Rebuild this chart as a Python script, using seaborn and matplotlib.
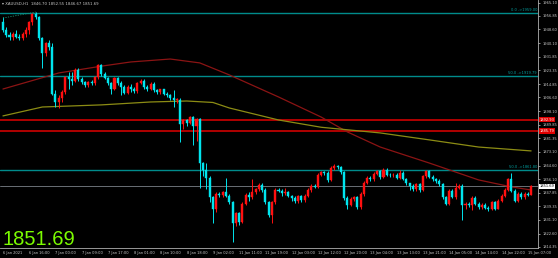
import numpy as np
import pandas as pd
import matplotlib
matplotlib.use("Agg")
import matplotlib.pyplot as plt
import seaborn as sns
from matplotlib.transforms import blended_transform_factory

# ---------------- data ----------------
opens = [1953, 1948, 1945, 1944, 1946, 1944, 1943, 1946, 1948, 1953,
         1958, 1956, 1943, 1934, 1940, 1938, 1909, 1904, 1906, 1910,
         1919, 1918, 1917, 1923.5, 1918, 1916, 1914, 1916, 1915.5, 1919,
         1926.5, 1921, 1918.5, 1915.5, 1912, 1918.5, 1915.5, 1913, 1909.5, 1913,
         1911.5, 1910.5, 1915.5, 1917, 1913, 1911.5, 1915, 1911, 1909.8, 1911.5,
         1909, 1908, 1906, 1905, 1905, 1890, 1892.5, 1891, 1894.5, 1889,
         1893, 1866, 1862, 1857, 1845, 1838, 1847, 1846.5, 1848, 1846,
         1842, 1829, 1835, 1830, 1841, 1846.5, 1845, 1848, 1850, 1852.5,
         1849.5, 1842, 1834, 1842, 1849.5, 1849, 1847.5, 1848, 1845.5, 1844.5,
         1842.5, 1845.5, 1843.5, 1846, 1849.5, 1852, 1851.5, 1859, 1860.5, 1860,
         1855.5, 1863, 1864.5, 1863.5, 1860.5, 1844.5, 1840.5, 1844, 1845, 1839,
         1847, 1854, 1857, 1856, 1859.5, 1861, 1857.5, 1862, 1859, 1858.5,
         1859, 1857, 1860, 1856.5, 1853.5, 1852, 1850, 1853, 1849.5, 1858,
         1861, 1857.5, 1856, 1855, 1853, 1845, 1841, 1849, 1845, 1851,
         1852, 1840, 1841, 1840, 1844.5, 1841, 1839, 1840.5, 1838.5, 1837.5,
         1842, 1838, 1843, 1846, 1849.5, 1856, 1849, 1843, 1847, 1845,
         1847, 1846.70]
highs = [1956, 1950, 1947, 1947, 1948, 1946, 1947, 1950, 1954, 1959,
         1959.5, 1957, 1944, 1941, 1942, 1940, 1911, 1908, 1911, 1920,
         1922, 1922, 1925, 1924.5, 1919, 1917, 1917, 1917.5, 1920, 1927.5,
         1927.5, 1922, 1919, 1916, 1919, 1919, 1917, 1914, 1914, 1915,
         1913, 1916, 1918, 1918, 1914, 1916, 1916, 1912, 1912, 1912,
         1910, 1909, 1911, 1906, 1906, 1893, 1893.5, 1895, 1895, 1894,
         1894, 1867, 1866, 1858, 1846, 1848, 1848, 1849, 1857, 1847,
         1843, 1836, 1836, 1842, 1847.5, 1848, 1856, 1851, 1853.5, 1853.5,
         1850.5, 1843, 1843, 1850.5, 1851, 1850, 1851, 1849, 1846.5, 1845.5,
         1846.5, 1846.5, 1847, 1850.5, 1853, 1853, 1860, 1861.5, 1861.5, 1861,
         1864, 1865.5, 1865, 1864, 1861.5, 1845.5, 1845, 1846, 1846, 1848,
         1855, 1858, 1858, 1860.5, 1862, 1862, 1863, 1863, 1860, 1860,
         1860, 1862, 1861, 1857, 1854, 1853, 1854, 1854, 1859, 1862,
         1862, 1858.5, 1857, 1856, 1854, 1846, 1850, 1850, 1854, 1853,
         1853, 1842, 1842, 1845.5, 1845.5, 1842, 1841.5, 1841.5, 1839.5, 1843,
         1843, 1844, 1847, 1850.5, 1857, 1860, 1850, 1848, 1848, 1848,
         1848, 1852.55]
lows = [1947, 1944, 1942, 1942, 1943, 1942, 1942, 1944, 1946, 1951,
        1955, 1942, 1925, 1932, 1936, 1908, 1901, 1900, 1904, 1909,
        1912, 1914, 1916, 1917, 1915, 1913, 1913, 1914, 1914, 1918,
        1920, 1918, 1914, 1909, 1911, 1914.5, 1908, 1909, 1908.5, 1910,
        1909.5, 1909.5, 1915, 1912, 1910.5, 1911, 1910, 1908.5, 1909, 1908,
        1907, 1905, 1901, 1903, 1879, 1887, 1889, 1890, 1877, 1880,
        1851, 1858, 1850, 1842, 1829, 1836, 1845, 1845, 1845, 1841,
        1817.5, 1827, 1828, 1829, 1840, 1843, 1844, 1847, 1849, 1848.5,
        1841, 1833, 1829, 1841, 1848, 1846, 1846.5, 1845, 1843, 1841.5,
        1841.5, 1842, 1842, 1845, 1848.5, 1850.5, 1851, 1858, 1859, 1854.5,
        1855, 1862, 1862.5, 1859.5, 1843.5, 1838, 1839.5, 1843, 1838, 1838,
        1846, 1853, 1855, 1855, 1858.5, 1856.5, 1857, 1858, 1857.5, 1857.5,
        1856, 1856.5, 1855.5, 1852.5, 1849.5, 1849, 1849, 1848.5, 1849, 1857,
        1857, 1855, 1854, 1852, 1844, 1840, 1840, 1844.5, 1844, 1850,
        1831, 1838, 1839, 1837, 1840, 1838, 1838, 1837.5, 1836.5, 1837,
        1837, 1837.5, 1842, 1845, 1849, 1848, 1842, 1842, 1844, 1844,
        1845.5, 1846.67]
closes = opens[1:] + [1851.69]

ma_red_idx = [0, 17, 30, 39, 51, 60, 69, 84, 97, 105, 115, 130, 145, 155, 161]
ma_red_val = [1911.8, 1921.7, 1925.9, 1928.5, 1930.3, 1927.9, 1920.5, 1906.9,
              1894.5, 1885.3, 1876.0, 1866.1, 1855.7, 1851.4, 1849.5]
ma_olv_idx = [0, 12, 30, 45, 56, 64, 69, 84, 97, 115, 130, 145, 161]
ma_olv_val = [1895.2, 1900.7, 1902.0, 1903.8, 1904.4, 1903.5, 1900.1, 1892.7,
              1888.2, 1884.7, 1880.4, 1876.0, 1873.6]

fib_levels = [1959.00, 1919.79, 1861.80]
fib_labels = ["0.0 ->1959.00", "50.0 ->1919.79", "50.0 ->1861.80"]
red_levels = [1892.93, 1885.79]
bid_price = 1851.69
fib_trend_idx = [0, 10]
fib_trend_val = [1955.6, 1959.3]

price_ticks = [1965.10, 1956.85, 1948.60, 1940.10, 1931.85, 1923.35, 1914.85,
               1906.60, 1898.10, 1889.85, 1881.35, 1873.10, 1864.60, 1856.10,
               1847.85, 1839.35, 1831.10, 1822.60, 1814.35]
time_tick_idx = list(range(0, 161, 8))
time_labels = ["6 Jan 2021", "6 Jan 16:00", "7 Jan 00:00", "7 Jan 09:00",
               "7 Jan 17:00", "8 Jan 01:00", "8 Jan 10:00", "8 Jan 18:00",
               "9 Jan 02:00", "11 Jan 11:00", "11 Jan 19:00", "12 Jan 03:00",
               "12 Jan 12:00", "12 Jan 20:00", "13 Jan 04:00", "13 Jan 13:00",
               "13 Jan 21:00", "14 Jan 05:00", "14 Jan 14:00", "14 Jan 22:00",
               "15 Jan 07:00"]
header = "\u25BE XAUUSD,H1  1846.70 1852.55 1846.67 1851.69"

# ---------------- figure ----------------
sns.set_style("dark", {"axes.facecolor": "black", "figure.facecolor": "black"})
plt.rcParams["font.family"] = ["DejaVu Sans"]

fig = plt.figure(figsize=(5.58, 2.58), dpi=100)
ax = fig.add_axes([0.0, 10 / 258, 538 / 558, 248 / 258])
ax.set_facecolor("black")

df = pd.DataFrame({"o": opens, "h": highs, "l": lows, "c": closes})
df["i"] = np.arange(len(df))
up = df["c"] >= df["o"]
UPC, DNC = "#ff1010", "#00e5ee"

# wicks
ax.vlines(df["i"][up], df["l"][up], df["h"][up], color=UPC, lw=0.7, zorder=3)
ax.vlines(df["i"][~up], df["l"][~up], df["h"][~up], color=DNC, lw=0.7, zorder=3)
# bodies
body_b = np.minimum(df["o"], df["c"])
body_h = np.maximum(np.abs(df["c"] - df["o"]), 0.35)
ax.bar(df["i"][up], body_h[up], bottom=body_b[up], width=0.62, color=UPC,
       edgecolor=UPC, lw=0.3, zorder=4)
ax.bar(df["i"][~up], body_h[~up], bottom=body_b[~up], width=0.62, color=DNC,
       edgecolor=DNC, lw=0.3, zorder=4)

# moving averages
sns.lineplot(x=ma_red_idx, y=ma_red_val, ax=ax, color="#8b1414", lw=0.9, zorder=2)
sns.lineplot(x=ma_olv_idx, y=ma_olv_val, ax=ax, color="#8c8c14", lw=0.9, zorder=2)

# fib trend (dotted)
ax.plot(fib_trend_idx, fib_trend_val, color="#1f8f6f", lw=0.6, ls=(0, (1.5, 1.5)), zorder=5)

# horizontal lines
for lv, lb in zip(fib_levels, fib_labels):
    ax.axhline(lv, color="#008b8b", lw=1.0, zorder=1)
    ax.text(162.8, lv + 0.4, lb, color="#00a0a0", fontsize=2.6, ha="right", va="bottom")
for lv in red_levels:
    ax.axhline(lv, color="#e00000", lw=1.1, zorder=1)
ax.axhline(bid_price, color="#7a8088", lw=0.6, zorder=1)

ax.set_xlim(-0.9, 163.1)
ax.set_ylim(1813.7, 1966.72)

# axes styling
for s in ["left", "top"]:
    ax.spines[s].set_visible(False)
for s in ["right", "bottom"]:
    ax.spines[s].set_visible(True)
    ax.spines[s].set_color("#b0b0b0")
    ax.spines[s].set_linewidth(0.6)
ax.yaxis.tick_right()
ax.set_yticks(price_ticks)
ax.set_yticklabels([f"{v:.2f}" for v in price_ticks])
ax.set_xticks(time_tick_idx)
ax.set_xticklabels(time_labels, ha="left")
ax.tick_params(axis="y", colors="#c8c8c8", labelsize=2.6, length=1.5, width=0.5, pad=1.5)
ax.tick_params(axis="x", colors="#c8c8c8", labelsize=2.6, length=1.5, width=0.5, pad=1.0)
ax.set_xlabel("")
ax.set_ylabel("")
ax.grid(False)

# right-side price tags
tr = blended_transform_factory(ax.transAxes, ax.transData)
for lv in red_levels:
    ax.text(1.003, lv, f"{lv:.2f}", transform=tr, fontsize=2.6, color="white",
            va="center", ha="left", clip_on=False,
            bbox=dict(boxstyle="square,pad=0.25", fc="#e00000", ec="none"))
ax.text(1.003, bid_price, f"{bid_price:.2f}", transform=tr, fontsize=2.6, color="black",
        va="center", ha="left", clip_on=False,
        bbox=dict(boxstyle="square,pad=0.25", fc="white", ec="none"))

# header and big price
ax.text(0.004, 0.992, header, transform=ax.transAxes, fontsize=2.8, color="#c8c8c8",
        ha="left", va="top")
fig.text(2 / 558, 1 - 245 / 258, f"{bid_price:.2f}", fontsize=14.5, color="#7cfc00",
         family=["Liberation Sans", "DejaVu Sans"], ha="left", va="baseline")

fig.savefig("out.png", dpi=100, facecolor="black")
